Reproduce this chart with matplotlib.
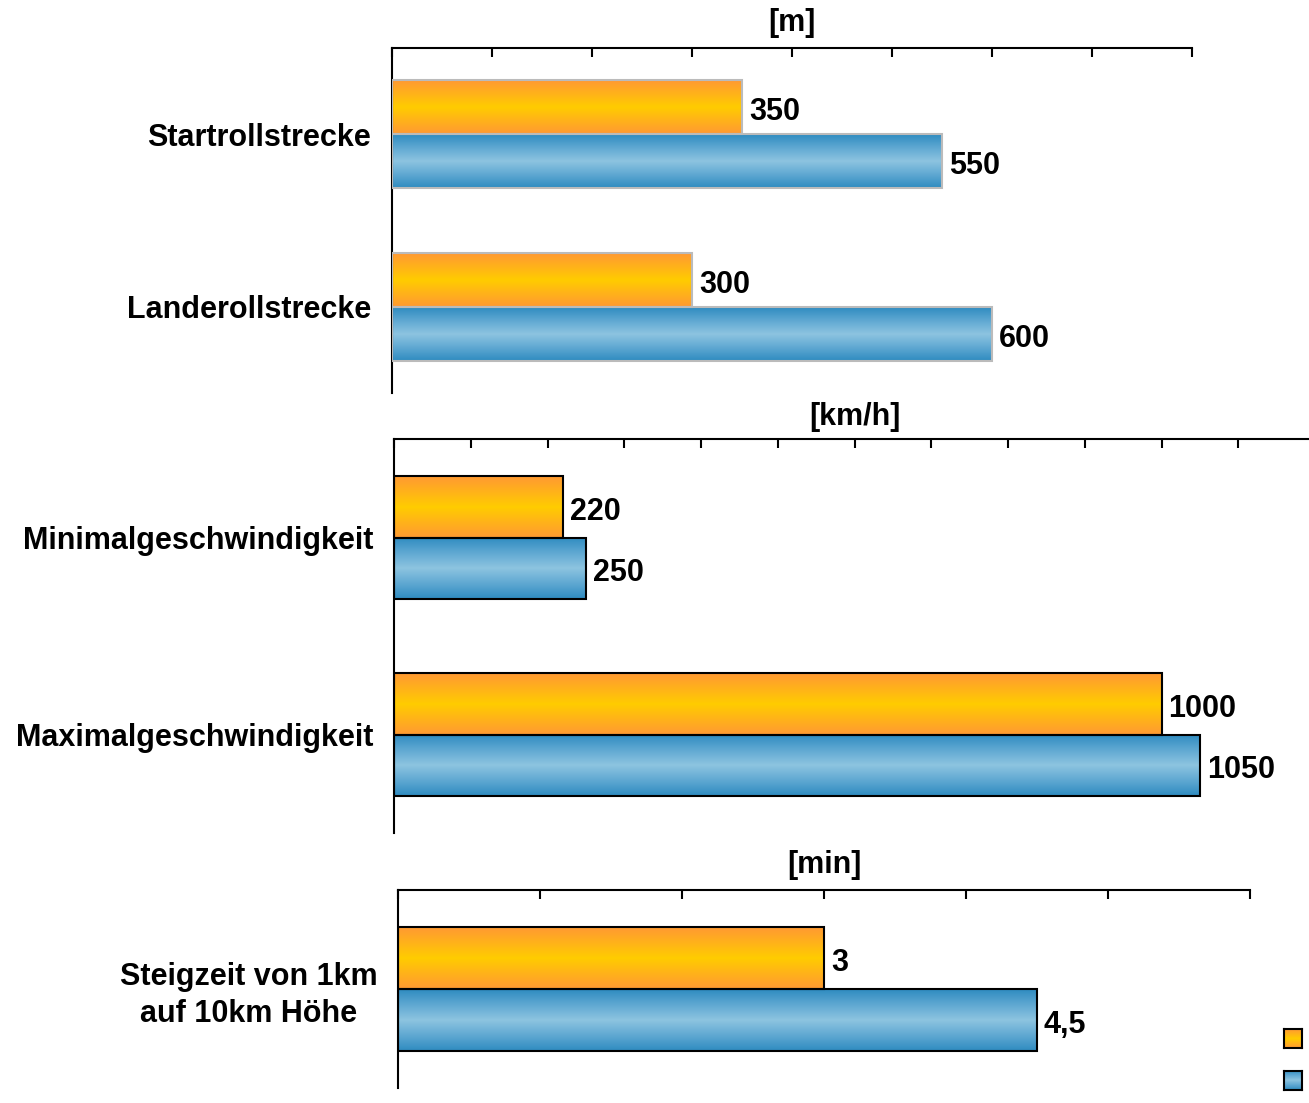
import numpy as np
import matplotlib
matplotlib.use("Agg")
import matplotlib.pyplot as plt
from matplotlib.colors import LinearSegmentedColormap

plt.rcParams['font.family'] = ['Liberation Sans', 'DejaVu Sans']
plt.rcParams['font.weight'] = 'bold'

# Data -------------------------------------------------------------------
dist_cats = ["Startrollstrecke", "Landerollstrecke"]
dist_a = [350, 300]
dist_b = [550, 600]

speed_cats = ["Minimalgeschwindigkeit", "Maximalgeschwindigkeit"]
speed_a = [220, 1000]
speed_b = [250, 1050]

climb_cats = ["Steigzeit von 1km\nauf 10km Höhe"]
climb_a = [3]
climb_b = [4.5]

units = ["[m]", "[km/h]", "[min]"]

# Styling ----------------------------------------------------------------
orange_cmap = LinearSegmentedColormap.from_list(
    "org", ["#FF9933", "#FFB21A", "#FFCC00", "#FFB21A", "#FF9933"])
blue_cmap = LinearSegmentedColormap.from_list(
    "blu", ["#2E8BC0", "#5FA8D2", "#8DC4E0", "#5FA8D2", "#2E8BC0"])
grad = np.linspace(0, 1, 256).reshape(-1, 1)

W, H = 1309, 1103
fig = plt.figure(figsize=(W / 100, H / 100), dpi=100)


def px_axes(left, top, right, bottom):
    return fig.add_axes([left / W, 1 - bottom / H, (right - left) / W, (bottom - top) / H])


def gradient_fill(ax, bars, cmap):
    for b in bars:
        x0, y0 = b.get_x(), b.get_y()
        w, h = b.get_width(), b.get_height()
        im = ax.imshow(grad, extent=[x0, x0 + w, y0, y0 + h], aspect='auto',
                       cmap=cmap, origin='lower', zorder=2, interpolation='bilinear')
        im.set_clip_path(b)
        b.set_facecolor('none')
        b.set_zorder(3)


def fmt(v):
    s = f"{v:g}"
    return s.replace(".", ",")


def panel(ax, cats, a, b, xmax, step, unit, edge, labelpad, bh=0.312):
    n = len(cats)
    y = np.arange(n)
    bars_a = ax.barh(y - bh / 2, a, height=bh, edgecolor=edge, linewidth=1.5)
    bars_b = ax.barh(y + bh / 2, b, height=bh, edgecolor=edge, linewidth=1.5)
    gradient_fill(ax, bars_a, orange_cmap)
    gradient_fill(ax, bars_b, blue_cmap)
    for bars, vals in ((bars_a, a), (bars_b, b)):
        for bar, v in zip(bars, vals):
            ax.annotate(fmt(v), (v, bar.get_y() + bar.get_height() / 2),
                        xytext=(5, -1), textcoords='offset points',
                        ha='left', va='center_baseline', fontsize=22, fontweight='bold')
    ax.set_xlim(0, xmax)
    ax.set_ylim(n - 0.5, -0.5)
    ax.set_xticks(np.arange(0, xmax + step / 2, step))
    ax.xaxis.tick_top()
    ax.tick_params(axis='x', direction='in', length=6.5, width=1.5,
                   labeltop=False, labelbottom=False, top=True, bottom=False)
    ax.set_yticks(y)
    ax.set_yticklabels(cats, fontsize=22, fontweight='bold')
    for t in ax.get_yticklabels():
        t.set_multialignment('center')
        t.set_linespacing(1.3)
    ax.tick_params(axis='y', length=0, pad=15)
    for s in ('right', 'bottom'):
        ax.spines[s].set_visible(False)
    for s in ('top', 'left'):
        ax.spines[s].set_linewidth(1.5)
    ax.xaxis.set_label_position('top')
    ax.set_xlabel(unit, fontsize=22, fontweight='bold', labelpad=labelpad)


ax1 = px_axes(392, 48, 1192, 393)
panel(ax1, dist_cats, dist_a, dist_b, 800, 100, units[0], '#BBBBBB', 12)

ax2 = px_axes(394, 439, 1315, 833)
panel(ax2, speed_cats, speed_a, speed_b, 1200, 100, units[1], 'black', 10)

ax3 = px_axes(398, 890, 1250, 1088)
panel(ax3, climb_cats, climb_a, climb_b, 6, 1, units[2], 'black', 12)

# Legend swatches (no text)
for top, cmap in ((1029, orange_cmap), (1071, blue_cmap)):
    lax = px_axes(1284, top, 1302, top + 19)
    lax.imshow(grad, aspect='auto', cmap=cmap, origin='lower', extent=[0, 1, 0, 1])
    lax.set_xticks([])
    lax.set_yticks([])
    for s in lax.spines.values():
        s.set_linewidth(1.5)

fig.savefig("out.png", dpi=100)
